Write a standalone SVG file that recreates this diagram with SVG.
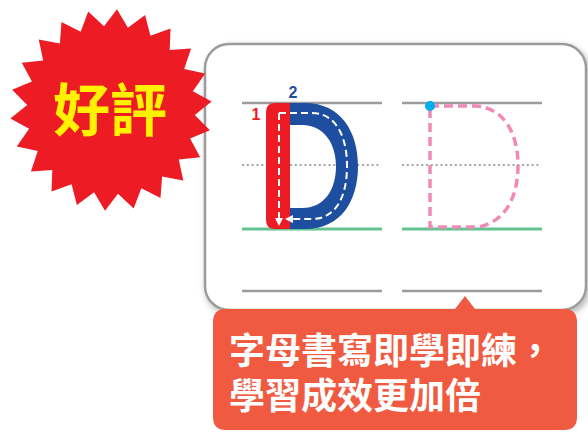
<svg xmlns="http://www.w3.org/2000/svg" width="588" height="438" viewBox="0 0 588 438">
<style>
.rule{stroke:#9b9b9d;stroke-width:2.5;fill:none}
.dot{stroke:#9b9b9d;stroke-width:2.2;stroke-linecap:round;stroke-dasharray:0.1 4.7;fill:none}
.base{stroke:#62c290;stroke-width:3;fill:none}
.guide{stroke:#fff;stroke-width:2;stroke-dasharray:7 4;fill:none}
.trace{stroke:#f08ab5;stroke-width:3.5;stroke-dasharray:9 5;fill:none}
.cjk{font-family:"Noto Sans CJK TC","Noto Sans CJK SC",sans-serif;font-weight:bold}
.num{font-family:"Liberation Sans",Arial,sans-serif;font-weight:bold;font-size:16px}
</style>
<defs>
<filter id="sh" x="-10%" y="-10%" width="130%" height="130%">
<feDropShadow dx="2" dy="3" stdDeviation="3" flood-color="#000" flood-opacity="0.3"/>
</filter>
<marker id="ah" viewBox="0 0 10 10" refX="5" refY="5" markerWidth="4" markerHeight="4" markerUnits="strokeWidth" orient="auto">
<path d="M0,0 L10,5 L0,10 Z" fill="#fff"/>
</marker>
</defs>
<rect width="588" height="438" fill="#fff"/>

<g id="card">
<rect x="205" y="44" width="381" height="266" rx="24" fill="#fff" stroke="#9b9b9d" stroke-width="2.5" filter="url(#sh)"/>
</g>

<g id="star">
<polygon fill="#ed1c24" points="117.0,9.2 127.9,27.7 145.1,14.9 150.4,35.8 170.5,28.4 169.7,49.9 191.1,48.5 184.2,68.9 205.2,73.6 192.9,91.2 211.6,101.6 194.8,115.0 209.9,130.3 190.1,138.4 200.2,157.3 178.8,159.5 183.3,180.6 162.1,176.6 160.5,198.1 141.3,188.3 133.7,208.4 118.0,193.7 105.0,210.8 94.1,192.3 76.9,205.1 71.6,184.2 51.5,191.6 52.3,170.1 30.9,171.5 37.8,151.1 16.8,146.4 29.1,128.8 10.4,118.4 27.2,105.0 12.1,89.7 31.9,81.6 21.8,62.7 43.2,60.5 38.7,39.4 59.9,43.4 61.5,21.9 80.7,31.7 88.2,11.6 104.0,26.3"/>
</g>

<g id="good-label">
<text class="cjk" x="110" y="131" font-size="57" fill="#fff200" text-anchor="middle">好評</text>
</g>

<g id="left-lines">
<line class="rule" x1="242" y1="103" x2="382" y2="103"/>
<line class="dot" x1="243" y1="165" x2="382" y2="165"/>
<line class="base" x1="242" y1="229" x2="382" y2="229"/>
<line class="rule" x1="242" y1="291" x2="382" y2="291"/>
</g>

<g id="right-lines">
<line class="rule" x1="402" y1="103" x2="542" y2="103"/>
<line class="dot" x1="403" y1="165" x2="542" y2="165"/>
<line class="base" x1="402" y1="229" x2="542" y2="229"/>
<line class="rule" x1="402" y1="291" x2="542" y2="291"/>
</g>

<g id="letter-d">
<path d="M290,103 H305 C341,103 358,132 358,166 C358,201 341,229 305,229 H290 Z M290,125 H302 C325,125 336,145 336,166 C336,189 325,208 302,208 H290 Z" fill="#1d4e9f" fill-rule="evenodd"/>
<path d="M275,103 H290 V229 H275 Q266,229 266,220 V112 Q266,103 275,103 Z" fill="#ed1c24"/>
<path class="guide" d="M279,113 V222" marker-end="url(#ah)"/>
<path class="guide" d="M279,113 H312 C335,113 347,135 347,166 C347,198 335,219 312,219 H289" marker-end="url(#ah)"/>
<text class="num" x="256" y="120" fill="#ed1c24" text-anchor="middle">1</text>
<text class="num" x="293" y="98" fill="#1d4e9f" text-anchor="middle">2</text>
</g>

<g id="trace-d">
<path class="trace" d="M430,106 H476 C505,108 518,135 518,165 C518,198 505,222 478,227 H430 Z"/>
<circle cx="430" cy="106" r="5" fill="#00aeef"/>
</g>

<g id="callout">
<path d="M226,309 H455 L465,296 L475,309 H564 Q577,309 577,322 V417 Q577,430 564,430 H226 Q213,430 213,417 V322 Q213,309 226,309 Z" fill="#f05a40"/>
<text class="cjk" font-size="36" fill="#fff"><tspan x="229" y="364">字母書寫即學即練，</tspan><tspan x="229" y="409">學習成效更加倍</tspan></text>
</g>
</svg>
